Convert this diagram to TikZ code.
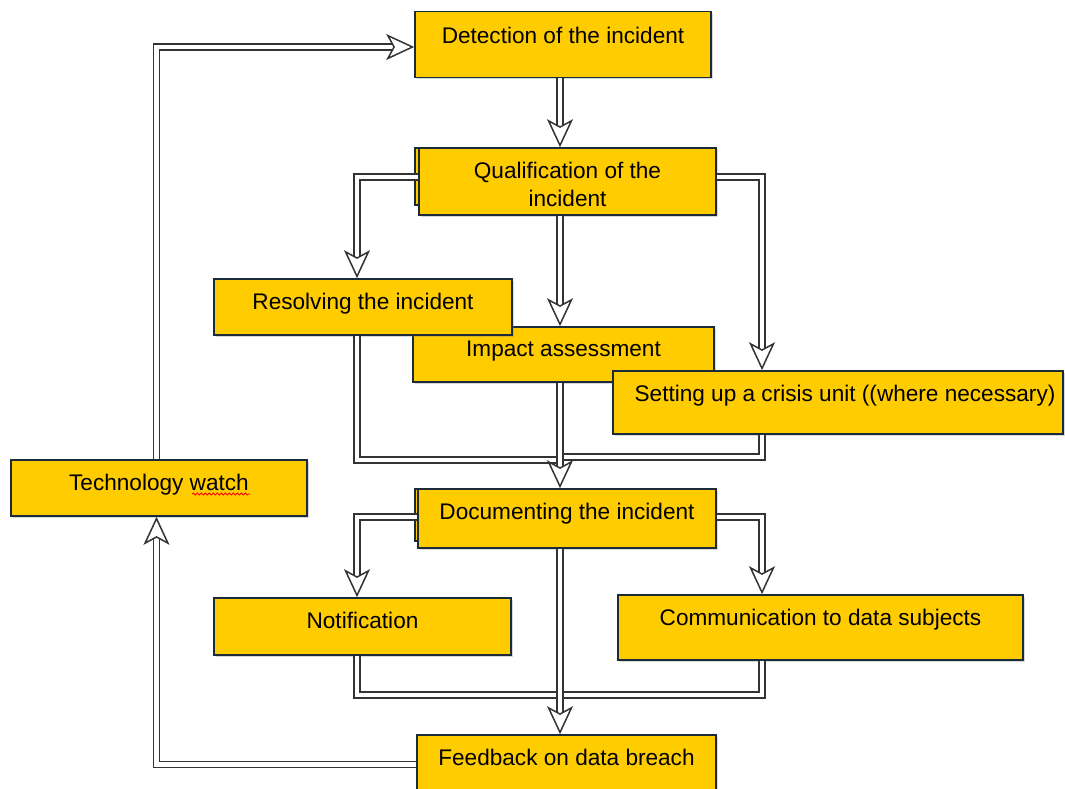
\documentclass[tikz,border=0pt]{standalone}
\usepackage{fontspec}
\setmainfont{Liberation Sans}
\usetikzlibrary{arrows.meta,shadows,decorations.pathmorphing}

\definecolor{boxfill}{HTML}{FFCC00}
\definecolor{boxedge}{HTML}{1C2B39}
\definecolor{linegray}{HTML}{333333}

\begin{document}
\begin{tikzpicture}[x=1pt, y=-1pt, line join=miter,
  box/.style={draw=boxedge, line width=1.6pt, fill=boxfill, inner sep=0pt,
    drop shadow={shadow xshift=1.5pt, shadow yshift=-1.5pt, opacity=0.3}},
  lbl/.style={anchor=north, yshift=-15pt, inner sep=0pt, align=center,
    font=\fontsize{22.6}{28}\selectfont},
  flow/.style={draw=linegray, line width=1.6pt, double=white, double distance=4.6pt},
  >={Stealth[open, length=28pt, width=26pt, inset=7pt, line width=1.5pt, fill=white]}]

\useasboundingbox (0,0) rectangle (1065,789);

% lanes of the connectors
\coordinate (mid) at (560,0);
\coordinate (lanel) at (357,0);
\coordinate (laner) at (762,0);
\coordinate (lanet) at (156.5,0);
\coordinate (join1) at (560,460);
\coordinate (join2) at (560,457);
\coordinate (join3) at (560,695);

% boxes
\node[box, minimum width=296pt, minimum height=66pt,
  label={[lbl, yshift=-1pt]north:Detection of the incident}] (detect) at (563,44.5) {};
\node[box, minimum width=297pt, minimum height=57pt] (qualback) at (563.5,176.5) {};
\node[box, minimum width=297pt, minimum height=67pt,
  label={[lbl]north:Qualification of the\\incident}] (qualif) at (567.5,181.5) {};
\node[box, minimum width=301pt, minimum height=55pt,
  label={[lbl]north:Impact assessment}] (impact) at (563.5,354.5) {};
\node[box, minimum width=298pt, minimum height=56pt,
  label={[lbl]north:Resolving the incident}] (resolve) at (363,307) {};
\node[box, minimum width=450pt, minimum height=63pt,
  label={[lbl, xshift=7pt]north:Setting up a crisis unit ((where necessary)}] (crisis) at (838,402.5) {};
\node[box, minimum width=296pt, minimum height=56pt,
  label={[lbl]north:Technology watch}] (tech) at (159,488) {};
\node[box, minimum width=297pt, minimum height=52pt] (docback) at (563.5,515) {};
\node[box, minimum width=298pt, minimum height=59pt,
  label={[lbl]north:Documenting the incident}] (doc) at (567,518.5) {};
\node[box, minimum width=297pt, minimum height=57pt,
  label={[lbl]north:Notification}] (notif) at (362.5,626.5) {};
\node[box, minimum width=405pt, minimum height=65pt,
  label={[lbl]north:Communication to data subjects}] (comm) at (820.5,627.5) {};
\node[box, minimum width=299pt, minimum height=70pt,
  label={[lbl]north:Feedback on data breach}] (feed) at (566.5,770) {};

% spell check mark
\draw[red, line width=0.8pt, decorate, decoration={snake, amplitude=1pt, segment length=4pt}]
  ([xshift=33pt, yshift=-6pt]tech.center) -- ([xshift=91pt, yshift=-6pt]tech.center);

% side connectors
\draw[flow,->] ([yshift=4.5pt]qualif.west) -| (lanel |- resolve.north);
\draw[flow,->] ([yshift=4.5pt]qualif.east) -| (laner |- crisis.north);
\draw[flow] (lanel |- resolve.south) |- (join1);
\draw[flow] (laner |- crisis.south) |- (join2);
\draw[flow,->] ([yshift=1.5pt]doc.west) -| (lanel |- notif.north);
\draw[flow,->] ([yshift=1.5pt]doc.east) -| (laner |- comm.north);
\draw[flow] (lanel |- notif.south) |- (join3);
\draw[flow] (laner |- comm.south) |- (join3);

% main line
\draw[flow,->] (mid |- detect.south) -- (mid |- qualif.north);
\draw[flow,->] (mid |- qualif.south) -- (mid |- impact.north);
\draw[flow,->] (mid |- impact.south) -- (mid |- doc.north);
\draw[flow,->] (mid |- doc.south) -- (mid |- feed.north);

% loop back
\draw[flow,->] ([yshift=5.5pt]feed.west) -| (lanet |- tech.south);
\draw[flow,->] (lanet |- tech.north) |- ([yshift=-2.5pt]detect.west);

\end{tikzpicture}
\end{document}
